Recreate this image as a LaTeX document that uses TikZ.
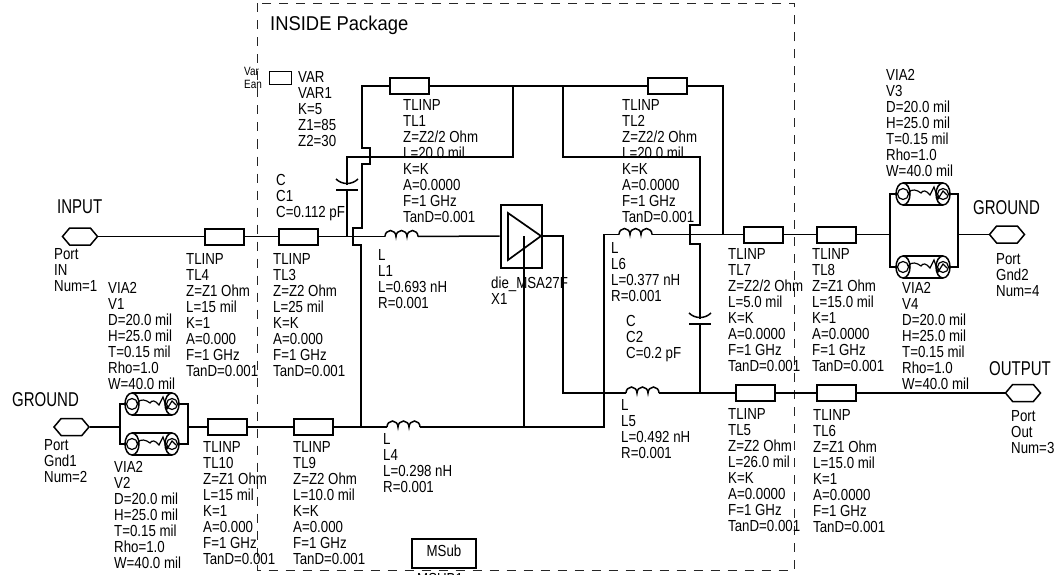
\documentclass[tikz,border=0pt]{standalone}
\usepackage{fontspec}
\setmainfont[FakeStretch=0.83]{Liberation Sans}
\newfontfamily\titlefont[FakeStretch=0.75]{Liberation Sans}
\newfontfamily\pkgfont[FakeStretch=0.92]{Liberation Sans}
\usetikzlibrary{shapes.symbols}
\tikzset{>=latex,
    wire/.style={line width=1.5pt},
    tline/.style={draw,line width=2pt,minimum width=39pt,minimum height=16pt,inner sep=0pt},
    port/.style={draw,line width=1.5pt,shape=signal,signal to=east and west,signal pointer angle=100,
        minimum width=35pt,minimum height=17pt,inner sep=0pt},
    lbl/.style={anchor=north west,inner sep=0pt,align=left,font=\fontsize{16}{16}\selectfont},
    title/.style={anchor=north west,inner sep=0pt,font=\titlefont\fontsize{20}{20}\selectfont},
    pkg/.style={line width=1pt,dash pattern=on 9pt off 8pt,black!85}
}
\newcommand\coil[3]{
    \coordinate (#1w) at (#2,#3);
    \coordinate (#1e) at (#2+33,#3);
    \draw[wire] (#1w) arc[start angle=180,end angle=360,x radius=5.5,y radius=6]
        arc[start angle=180,end angle=360,x radius=5.5,y radius=6]
        arc[start angle=180,end angle=360,x radius=5.5,y radius=6];
}
\newcommand\capsym[3]{
    \coordinate (#1T) at (#2,#3);
    \coordinate (#1B) at (#2,#3+5);
    \draw[wire] (#2-11,#3-6) .. controls (#2-5,#3) and (#2+5,#3) .. (#2+11,#3-6);
    \draw[wire] (#2-11,#3+5) -- (#2+11,#3+5);
}
\newcommand\viasym[3]{
    \coordinate (#1W) at (#2-27,#3);
    \coordinate (#1E) at (#2+27,#3);
    \draw[wire] (#2-20,#3-11) -- (#2+20,#3-11) (#2-20,#3+11) -- (#2+20,#3+11);
    \draw[wire] (#2-20,#3) ellipse (7 and 11) (#2+20,#3) ellipse (7 and 11);
    \draw[line width=1.2pt] (#2-20,#3) circle (5.5) (#2+20,#3) circle (5.5);
    \draw[line width=1.2pt] (#2-15,#3-1) .. controls (#2-11,#3-6) and (#2-6,#3-4) .. (#2-2,#3-1)
        .. controls (#2,#3-4) and (#2+3,#3-4) .. (#2+7,#3+1)
        -- (#2+11,#3-7) -- (#2+15,#3+5) -- (#2+20,#3-3) -- (#2+24,#3+1);
}

\begin{document}
\begin{tikzpicture}[x=1pt,y=-1pt]
    \useasboundingbox (0,0) rectangle (1057,575);

    \draw[pkg] (257,3.5) rectangle (794,570);

    \node[port] (IN) at (80,236.5) {};
    \node[port] (Gnd1) at (71.5,427) {};
    \node[port] (Gnd2) at (1007,234.5) {};
    \node[port] (Out) at (1023,393) {};

    \node[tline] (TL1) at (409.5,86) {};
    \node[tline] (TL2) at (667,86) {};
    \node[tline] (TL3) at (298.5,236.5) {};
    \node[tline] (TL4) at (224,236.5) {};
    \node[tline] (TL5) at (755,393) {};
    \node[tline] (TL6) at (836.5,393) {};
    \node[tline] (TL7) at (763,234.5) {};
    \node[tline] (TL8) at (836.5,234.5) {};
    \node[tline] (TL9) at (313.5,427) {};
    \node[tline] (TL10) at (227,427) {};

    \node[draw,line width=2pt,minimum width=41pt,minimum height=63pt,inner sep=0pt] (die) at (521,236) {};
    \coordinate (pin) at (524,236);
    \draw[line width=1.7pt] (508,213) -- (541,236) -- (508,260) -- cycle;

    \node[draw,line width=1.7pt,minimum width=22pt,minimum height=13pt,inner sep=0pt] (VARbox) at (280.5,78) {};
    \node[draw,line width=2pt,minimum width=64pt,minimum height=29pt,inner sep=0pt] (MSub) at (443.5,553) {};
    \node[font=\fontsize{16}{16}\selectfont,inner sep=0pt] (MSubtxt) at (444,551) {MSub};
    \node[lbl] (tMSub) at (417,573) {MSUB1};

    \coil{L1}{385}{236.5}
    \coil{L4}{387}{427}
    \coil{L5}{626}{393}
    \coil{L6}{619}{234.5}

    \capsym{C1}{347}{185}
    \capsym{C2}{700}{319}

    \viasym{V1}{152}{404}
    \viasym{V2}{152}{444}
    \viasym{V3}{923}{194}
    \viasym{V4}{923}{267}

    \coordinate (bL1) at (120,427);
    \coordinate (bR1) at (188,427);
    \coordinate (bL2) at (890,234.5);
    \coordinate (bR2) at (958,234.5);
    \coordinate (n1) at (513,157);
    \coordinate (n2) at (513,86);
    \coordinate (n3) at (563,86);
    \coordinate (n4) at (700,157);
    \coordinate (n5) at (723,234.5);
    \coordinate (j1) at (362,148);
    \coordinate (j2) at (361,427);
    \coordinate (j3) at (604,427);
    \coordinate (j4) at (563,393);
    \coordinate (j5) at (524,427);
    \coordinate (j6) at (347,236.5);
    \coordinate (j7) at (700,393);

    \draw[wire] (IN.east) -- (TL4.west);
    \draw[wire] (TL4.east) -- (TL3.west);
    \draw[wire] (TL3.east) -- (L1w);
    \draw[wire] (L1e) -- (die.west);
    \draw[wire] (j6) -- (C1B);
    \draw[wire] (C1T) |- (n1) -- (n2);
    \draw[wire] (TL1.west) -| (j1) -- ++(8,0) -- ++(0,16) -- ++(-8,0) -- ++(0,64)
        -- ++(-9,0) -- ++(0,17) -- ++(8,0) -- (j2);
    \draw[wire] (TL1.east) -- (TL2.west);
    \draw[wire] (TL2.east) -| (n5);
    \draw[wire] (n3) |- (n4) -- ++(0,68) -- ++(-10,0) -- ++(0,19) -- ++(10,0) -- (C2T);
    \draw[wire] (C2B) -- (j7);
    \draw[wire] (die.east) -| (j4) -- (L5w);
    \draw[wire] (L5e) -- (TL5.west);
    \draw[wire] (TL5.east) -- (TL6.west);
    \draw[wire] (TL6.east) -- (Out.west);
    \draw[wire] (L6e) -- (TL7.west);
    \draw[wire] (TL7.east) -- (TL8.west);
    \draw[wire] (TL8.east) -- (bL2);
    \draw[wire] (V3W) -| (bL2) |- (V4W);
    \draw[wire] (V3E) -| (bR2) |- (V4E);
    \draw[wire] (bR2) -- (Gnd2.west);
    \draw[wire] (Gnd1.east) -- (bL1);
    \draw[wire] (V1W) -| (bL1) |- (V2W);
    \draw[wire] (V1E) -| (bR1) |- (V2E);
    \draw[wire] (bR1) -- (TL10.west);
    \draw[wire] (TL10.east) -- (TL9.west);
    \draw[wire] (TL9.east) -- (L4w);
    \draw[wire] (L4e) -- (j3) |- (L6w);
    \draw[wire] (pin) -- (j5);

    \node[title,font=\pkgfont\fontsize{20}{20}\selectfont] (tPkg) at (270,16) {INSIDE Package};
    \node[title] (tIn) at (57,200) {INPUT};
    \node[title] (tGndL) at (12,392) {GROUND};
    \node[title] (tGndR) at (973,200) {GROUND};
    \node[title] (tOut) at (989,361) {OUTPUT};

    \node[lbl] (pIN) at (54,248) {Port\\IN\\Num=1};
    \node[lbl] (pGnd1) at (44,439) {Port\\Gnd1\\Num=2};
    \node[lbl] (pGnd2) at (996,253) {Port\\Gnd2\\Num=4};
    \node[lbl] (pOut) at (1011,410) {Port\\Out\\Num=3};

    \node[anchor=north west,inner sep=0pt,align=left,font=\fontsize{12}{13}\selectfont] (tVar) at (244,67) {Var\\Ean};
    \node[lbl] (tVAR) at (298,71) {VAR\\VAR1\\K=5\\Z1=85\\Z2=30};
    \node[lbl] (tC1) at (276,174) {C\\C1\\C=0.112 pF};
    \node[lbl] (tC2) at (626,315) {C\\C2\\C=0.2 pF};
    \node[lbl] (tL1) at (378,249) {L\\L1\\L=0.693 nH\\R=0.001};
    \node[lbl] (tL4) at (383,433) {L\\L4\\L=0.298 nH\\R=0.001};
    \node[lbl] (tL5) at (621,399) {L\\L5\\L=0.492 nH\\R=0.001};
    \node[lbl] (tL6) at (611,242) {L\\L6\\L=0.377 nH\\R=0.001};
    \node[lbl] (tX1) at (491,277) {die\_MSA27F\\X1};

    \node[lbl] (tTL1) at (403,99) {TLINP\\TL1\\Z=Z2/2 Ohm\\L=20.0 mil\\K=K\\A=0.0000\\F=1 GHz\\TanD=0.001};
    \node[lbl] (tTL2) at (622,99) {TLINP\\TL2\\Z=Z2/2 Ohm\\L=20.0 mil\\K=K\\A=0.0000\\F=1 GHz\\TanD=0.001};
    \node[lbl] (tTL3) at (273,253) {TLINP\\TL3\\Z=Z2 Ohm\\L=25 mil\\K=K\\A=0.000\\F=1 GHz\\TanD=0.001};
    \node[lbl] (tTL4) at (186,253) {TLINP\\TL4\\Z=Z1 Ohm\\L=15 mil\\K=1\\A=0.000\\F=1 GHz\\TanD=0.001};
    \node[lbl] (tTL5) at (728,408) {TLINP\\TL5\\Z=Z2 Ohm\\L=26.0 mil\\K=K\\A=0.0000\\F=1 GHz\\TanD=0.001};
    \node[lbl] (tTL6) at (813,409) {TLINP\\TL6\\Z=Z1 Ohm\\L=15.0 mil\\K=1\\A=0.0000\\F=1 GHz\\TanD=0.001};
    \node[lbl] (tTL7) at (728,248) {TLINP\\TL7\\Z=Z2/2 Ohm\\L=5.0 mil\\K=K\\A=0.0000\\F=1 GHz\\TanD=0.001};
    \node[lbl] (tTL8) at (812,248) {TLINP\\TL8\\Z=Z1 Ohm\\L=15.0 mil\\K=1\\A=0.0000\\F=1 GHz\\TanD=0.001};
    \node[lbl] (tTL9) at (293,441) {TLINP\\TL9\\Z=Z2 Ohm\\L=10.0 mil\\K=K\\A=0.000\\F=1 GHz\\TanD=0.001};
    \node[lbl] (tTL10) at (203,441) {TLINP\\TL10\\Z=Z1 Ohm\\L=15 mil\\K=1\\A=0.000\\F=1 GHz\\TanD=0.001};

    \node[lbl] (tV1) at (108,282) {VIA2\\V1\\D=20.0 mil\\H=25.0 mil\\T=0.15 mil\\Rho=1.0\\W=40.0 mil};
    \node[lbl] (tV2) at (114,461) {VIA2\\V2\\D=20.0 mil\\H=25.0 mil\\T=0.15 mil\\Rho=1.0\\W=40.0 mil};
    \node[lbl] (tV3) at (886,69) {VIA2\\V3\\D=20.0 mil\\H=25.0 mil\\T=0.15 mil\\Rho=1.0\\W=40.0 mil};
    \node[lbl] (tV4) at (902,282) {VIA2\\V4\\D=20.0 mil\\H=25.0 mil\\T=0.15 mil\\Rho=1.0\\W=40.0 mil};
\end{tikzpicture}
\end{document}
